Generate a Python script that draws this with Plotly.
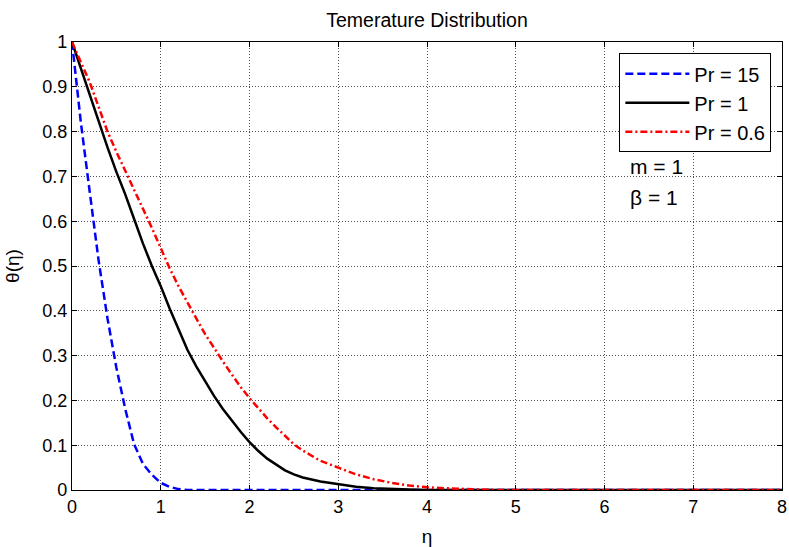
import plotly.graph_objects as go

# ---- data ----
blue_eta = [0, 0.05, 0.1, 0.2, 0.3, 0.4, 0.5, 0.6, 0.7, 0.8, 0.9, 1.0, 1.1, 1.2, 1.3, 2, 3, 4, 5, 6, 7, 8]
blue_theta = [1, 0.905, 0.82, 0.665, 0.512, 0.383, 0.273, 0.181, 0.102, 0.058, 0.034, 0.016, 0.007,
              0.002, 0, 0, 0, 0, 0, 0, 0, 0]

black_eta = [0, 0.1, 0.2, 0.3, 0.4, 0.5, 0.6, 0.7, 0.8, 0.9, 1.0, 1.1, 1.2, 1.3, 1.4, 1.5, 1.6, 1.7,
             1.8, 1.9, 2.0, 2.1, 2.2, 2.3, 2.4, 2.5, 2.6, 2.8, 3.0, 3.2, 3.4, 3.6, 3.8, 4.0, 5, 6, 7, 8]
black_theta = [1, 0.94, 0.885, 0.82, 0.765, 0.71, 0.66, 0.605, 0.55, 0.5, 0.455, 0.405, 0.358, 0.313,
               0.276, 0.242, 0.21, 0.181, 0.155, 0.13, 0.107, 0.087, 0.07, 0.056, 0.044, 0.035, 0.028,
               0.019, 0.013, 0.007, 0.004, 0.002, 0.001, 0, 0, 0, 0, 0]

red_eta = [0, 0.1, 0.2, 0.3, 0.4, 0.5, 0.6, 0.7, 0.8, 0.9, 1.0, 1.1, 1.2, 1.3, 1.4, 1.5, 1.6, 1.7,
           1.8, 1.9, 2.0, 2.1, 2.2, 2.3, 2.4, 2.5, 2.6, 2.8, 3.0, 3.2, 3.4, 3.6, 3.8, 4.0, 4.2, 4.4,
           4.6, 4.8, 5, 6, 7, 8]
red_theta = [1, 0.955, 0.91, 0.855, 0.8, 0.755, 0.713, 0.67, 0.628, 0.585, 0.54, 0.495, 0.455, 0.418,
             0.383, 0.348, 0.316, 0.287, 0.258, 0.23, 0.205, 0.182, 0.16, 0.14, 0.12, 0.102, 0.088,
             0.065, 0.05, 0.035, 0.024, 0.016, 0.01, 0.006, 0.004, 0.002, 0.001, 0, 0, 0, 0, 0]

series_names = ["Pr = 15", "Pr = 1", "Pr = 0.6"]
x_ticks = [0, 1, 2, 3, 4, 5, 6, 7, 8]
y_ticks = [0, 0.1, 0.2, 0.3, 0.4, 0.5, 0.6, 0.7, 0.8, 0.9, 1]
y_tick_labels = ["0", "0.1", "0.2", "0.3", "0.4", "0.5", "0.6", "0.7", "0.8", "0.9", "1"]
title_text = "Temerature Distribution"
x_title = "η"
y_title = "θ(η)"
notes = ["m = 1", "β = 1"]

FONT = "Liberation Sans, Arial, sans-serif"

fig = go.Figure()
fig.add_trace(go.Scatter(x=blue_eta, y=blue_theta, mode="lines", name=series_names[0],
                         legendgroup="a",
                         line=dict(color="#0000ff", width=2.5, dash="8px,4px")))
fig.add_trace(go.Scatter(x=black_eta, y=black_theta, mode="lines", name=series_names[1],
                         legendgroup="b",
                         line=dict(color="#000000", width=2.5)))
fig.add_trace(go.Scatter(x=red_eta, y=red_theta, mode="lines", name=series_names[2],
                         legendgroup="c",
                         line=dict(color="#ff0000", width=2.5, dash="7px,3px,2px,3px")))

axis_common = dict(
    showline=True, linecolor="black", linewidth=1.3, mirror="ticks",
    ticks="inside", ticklen=5, tickcolor="black", tickwidth=1,
    showgrid=True, gridcolor="#505050", gridwidth=1, griddash="1px,2px",
    zeroline=False, automargin=False,
    tickfont=dict(family=FONT, size=18, color="black"),
)

fig.update_xaxes(range=[0, 8], tickvals=x_ticks, ticktext=[str(v) for v in x_ticks],
                 title=dict(text=x_title, font=dict(family=FONT, size=19, color="black"), standoff=15),
                 **axis_common)
fig.update_yaxes(range=[0, 1], tickvals=y_ticks, ticktext=y_tick_labels,
                 title=dict(text=y_title, font=dict(family=FONT, size=19, color="black"), standoff=17),
                 **axis_common)

for i, t in enumerate(notes):
    fig.add_annotation(x=6.26, y=[0.721, 0.654][i], xref="x", yref="y", text=t, showarrow=False,
                       xanchor="left", yanchor="middle",
                       font=dict(family=FONT, size=21, color="black"))

fig.update_layout(
    width=789, height=547,
    margin=dict(l=72, r=7, t=42, b=57),
    paper_bgcolor="white", plot_bgcolor="white",
    title=dict(text=title_text, x=0.5, xref="paper", y=1 - 20 / 547, yanchor="middle",
               font=dict(family=FONT, size=19.5, color="black")),
    showlegend=True,
    legend=dict(x=0.985, xanchor="right", y=0.975, yanchor="top",
                bgcolor="white", bordercolor="black", borderwidth=1,
                font=dict(family=FONT, size=20, color="black"),
                itemwidth=64, tracegroupgap=1, traceorder="normal"),
)

fig.write_html("out.html")
